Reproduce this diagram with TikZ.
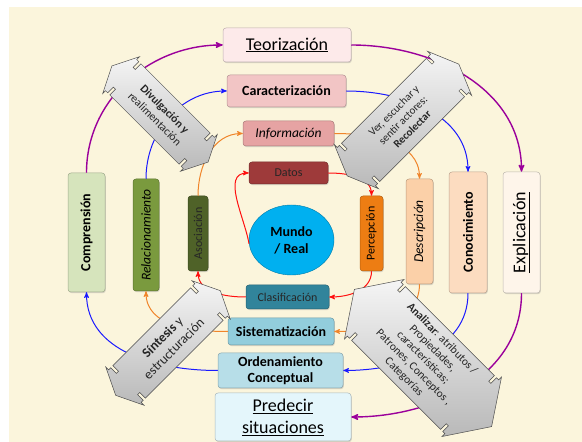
\documentclass[tikz,border=0pt]{standalone}
\usepackage{fontspec}
\setmainfont{Carlito}
\usetikzlibrary{arrows, shapes.geometric, shadows}
\definecolor{fondo}{HTML}{FBF5DC}
\definecolor{tteor}{HTML}{FDEAEA}
\definecolor{tcarac}{HTML}{F2C5C5}
\definecolor{tinfo}{HTML}{E6A3A3}
\definecolor{tdatos}{HTML}{9E3A3A}
\definecolor{tmundo}{HTML}{00B0F0}
\definecolor{tperc}{HTML}{ED7D13}
\definecolor{tdesc}{HTML}{FBD0A8}
\definecolor{tcono}{HTML}{FCDCC0}
\definecolor{texpl}{HTML}{FEF5EA}
\definecolor{tasoc}{HTML}{4F6228}
\definecolor{trela}{HTML}{7A9A3E}
\definecolor{tcomp}{HTML}{D6E4BC}
\definecolor{tclas}{HTML}{31849B}
\definecolor{tsist}{HTML}{92CDDC}
\definecolor{torde}{HTML}{B7DEE8}
\definecolor{tpred}{HTML}{E4F6FB}
\definecolor{lrojo}{HTML}{FF1010}
\definecolor{lnaranja}{HTML}{F0852B}
\definecolor{lazul}{HTML}{1A1AFF}
\definecolor{lmorado}{HTML}{9B009B}
\tikzset{
caja/.style={ % boxes of the cycle
draw=#1!75!black, fill=#1, rounded corners=3pt, line width=.5pt,
inner sep=0pt, align=center,
drop shadow={shadow xshift=.8pt, shadow yshift=-1.2pt, opacity=.3}},
every edge/.style={ % connectors between the boxes
draw,->,>=stealth', line width=1pt},
rojo/.style={lrojo},
naranja/.style={lnaranja},
azul/.style={lazul},
morado/.style={lmorado, line width=1.4pt},
flechagris/.style={draw=gray!60!black, line width=.5pt,
top color=gray!8, bottom color=gray!55},
textoflecha/.style={align=center, inner sep=0pt, text=black!85},
pics/flecha/.style n args={4}{code={ % half length, half width, head half width, head length
\pgfmathsetmacro\fL{#1}
\pgfmathsetmacro\fA{#1-#4}
\pgfmathsetmacro\fS{#1-#4-3}
\pgfmathsetmacro\fT{#1-#4-6}
\pgfmathsetmacro\fW{#2}
\pgfmathsetmacro\fD{#2-8}
\pgfmathsetmacro\fH{#3}
\path[flechagris] (\fL,0) -- (\fA,\fH) -- (\fA,\fW) -- (\fS,\fW) -- (\fS,\fD) -- (\fT,\fD) -- (\fT,\fW)
-- (-\fT,\fW) -- (-\fT,\fD) -- (-\fS,\fD) -- (-\fS,\fW) -- (-\fA,\fW) -- (-\fA,\fH) -- (-\fL,0)
-- (-\fA,-\fH) -- (-\fA,-\fW) -- (-\fS,-\fW) -- (-\fS,-\fD) -- (-\fT,-\fD) -- (-\fT,-\fW)
-- (\fT,-\fW) -- (\fT,-\fD) -- (\fS,-\fD) -- (\fS,-\fW) -- (\fA,-\fW) -- (\fA,-\fH) -- cycle;
}}}

\begin{document}
\begin{tikzpicture}[x=1pt, y=1pt]

\useasboundingbox (0,0) rectangle (582,442);
\fill[fondo] (9,0) rectangle (582,435);

% upper boxes
\node[caja=tteor, minimum width=128pt, minimum height=34pt, font=\fontsize{18}{21}\selectfont] (teor) at (287,397) {\underline{Teorización}};
\node[caja=tcarac, minimum width=119pt, minimum height=32pt, font=\fontsize{14}{16}\selectfont\bfseries] (carac) at (286.5,351) {Caracterización};
\node[caja=tinfo, minimum width=91pt, minimum height=25pt, font=\fontsize{13.5}{16}\selectfont\itshape] (info) at (288.5,308.5) {Información};
\node[caja=tdatos, minimum width=79pt, minimum height=22pt, font=\fontsize{12}{14}\selectfont, text=black!85] (datos) at (288.5,269) {Datos};
\node[ellipse, draw=tmundo!70!black, fill=tmundo, minimum width=85pt, minimum height=70pt, inner sep=0pt, align=center, font=\fontsize{14}{17}\selectfont\bfseries] (mundo) at (291.5,202) {Mundo\\/ Real};

% right columns
\node[caja=tperc, rotate=90, minimum width=75pt, minimum height=23pt, font=\fontsize{12}{14}\selectfont] (perc) at (371.5,208.5) {Percepción};
\node[caja=tdesc, rotate=90, minimum width=105pt, minimum height=27pt, font=\fontsize{13.5}{16}\selectfont\itshape] (desc) at (419.5,210.5) {Descripción};
\node[caja=tcono, rotate=90, minimum width=121pt, minimum height=38pt, font=\fontsize{14}{16}\selectfont\bfseries] (cono) at (468,209.5) {Conocimiento};
\node[caja=texpl, rotate=90, minimum width=121pt, minimum height=37pt, font=\fontsize{18}{21}\selectfont] (expl) at (521.5,209.5) {\underline{Explicación}};

% left columns
\node[caja=tasoc, rotate=90, minimum width=75pt, minimum height=20pt, font=\fontsize{12}{14}\selectfont, text=black!85] (asoc) at (198,208.5) {Asociación};
\node[caja=trela, rotate=90, minimum width=112pt, minimum height=26pt, font=\fontsize{13.5}{16}\selectfont\itshape] (rela) at (146,207) {Relacionamiento};
\node[caja=tcomp, rotate=90, minimum width=119pt, minimum height=37pt, font=\fontsize{14}{16}\selectfont\bfseries] (comp) at (86.5,209.5) {Comprensión};

% lower boxes
\node[caja=tclas, minimum width=83pt, minimum height=24pt, font=\fontsize{12}{14}\selectfont, text=black!85] (clas) at (287.5,145) {Clasificación};
\node[caja=tsist, minimum width=106pt, minimum height=27pt, font=\fontsize{14}{16}\selectfont\bfseries] (sist) at (281,110.5) {Sistematización};
\node[caja=torde, minimum width=125pt, minimum height=35pt, font=\fontsize{14}{16}\selectfont\bfseries] (orde) at (280.5,71.5) {Ordenamiento\\Conceptual};
\node[caja=tpred, minimum width=136pt, minimum height=48pt, font=\fontsize{18}{22}\selectfont] (pred) at (283,25) {\underline{Predecir}\\\underline{situaciones}};

% inner cycle
\draw (mundo.185) edge[rojo, out=100, in=180] (datos.west);
\draw (datos.east) edge[rojo, out=0, in=90] (perc.east);
\draw (perc.west) edge[rojo, out=-90, in=0] (clas.east);
\draw (clas.west) edge[rojo, out=180, in=-90] (asoc.west);

\draw (asoc.east) edge[naranja, out=90, in=180] (info.west);
\draw (info.east) edge[naranja, out=0, in=90] (desc.east);
\draw (desc.west) edge[naranja, out=-90, in=0] (sist.east);
\draw (sist.west) edge[naranja, out=180, in=-90] (rela.west);

\draw (rela.east) edge[azul, out=90, in=180] (carac.west);
\draw (carac.east) edge[azul, out=0, in=90] (cono.east);
\draw (cono.west) edge[azul, out=-90, in=0] (orde.east);
\draw (orde.west) edge[azul, out=180, in=-90] (comp.west);

% outer cycle
\draw (comp.east) edge[morado, out=90, in=180] (teor.west);
\draw (teor.east) edge[morado, out=0, in=90] (expl.east);
\draw (expl.west) edge[morado, out=-90, in=0] (pred.east);

% big double arrows
\pic[rotate=-45] at (160,328) {flecha={68}{22}{26}{13}};
\node[textoflecha, rotate=-45, font=\fontsize{11.5}{14}\selectfont] (divulga) at (160,328) {\textbf{Divulgación y}\\realimentación};

\pic[rotate=45] at (403,322) {flecha={79}{27}{31}{13}};
\node[textoflecha, rotate=45, font=\fontsize{11}{13}\selectfont] (recolecta) at (403,322) {Ver, escuchar y\\sentir actores:\\\textbf{Recolectar}};

\pic[rotate=45] at (168,99) {flecha={74}{23}{27}{13}};
\node[textoflecha, rotate=45, font=\fontsize{13.5}{16}\selectfont] (sintesis) at (168,99) {\textbf{Síntesis} y\\estructuración};

\pic[rotate=-45] at (423,84) {flecha={97}{38}{42}{28}};
\node[textoflecha, rotate=-45, font=\fontsize{11.5}{13.5}\selectfont] (analiza) at (423,84) {\textbf{Analizar}: atributos /\\Propiedades,\\características;\\Patrones, Conceptos ,\\Categorías};

\end{tikzpicture}
\end{document}
